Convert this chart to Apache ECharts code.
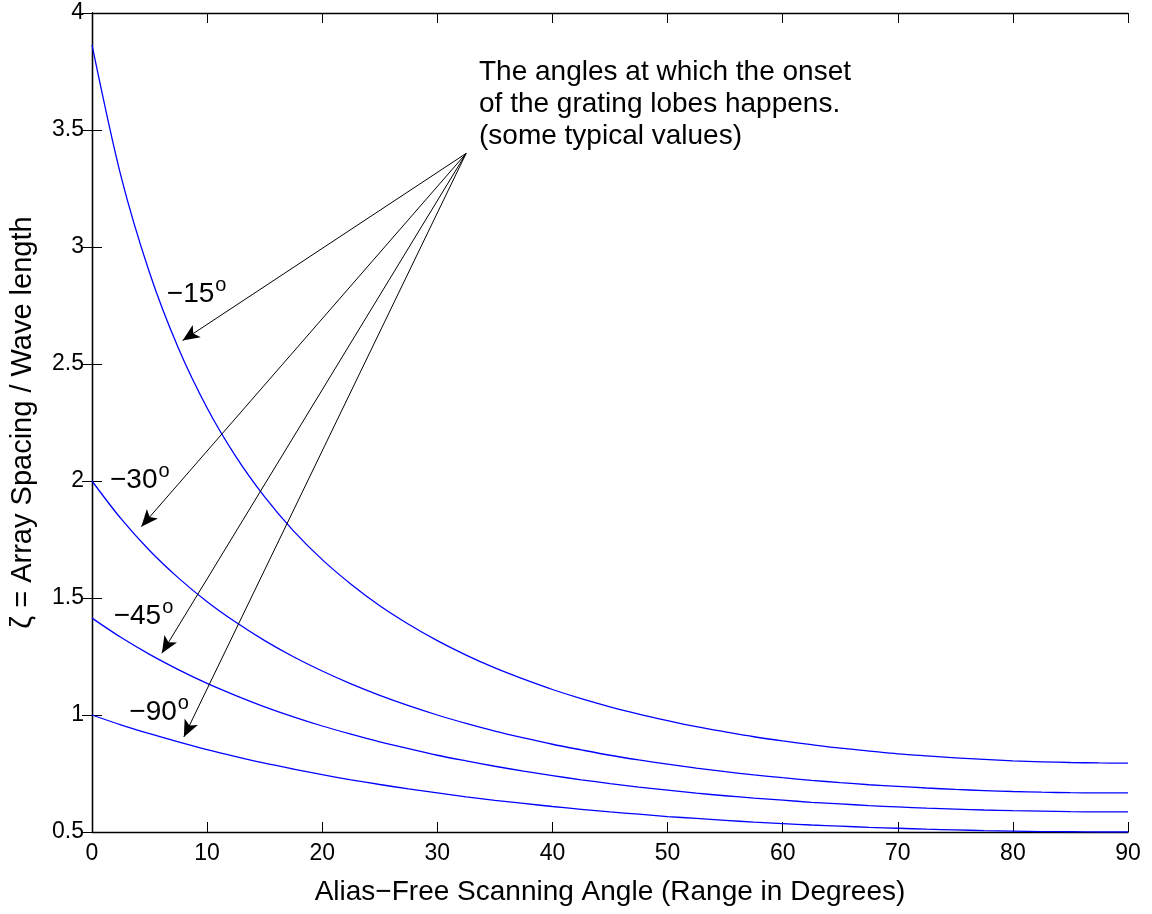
<!DOCTYPE html>
<html>
<head>
<meta charset="utf-8">
<script src="https://cdn.jsdelivr.net/npm/echarts@6/dist/echarts.min.js"></script>
<style>
  html, body { margin: 0; padding: 0; background: #fff; }
  #chart { width: 1152px; height: 914px; }
</style>
</head>
<body>
<div id="chart"></div>
<script>
// scan angle samples (degrees)
const angles = [0, 2.5, 5, 7.5, 10, 12.5, 15, 17.5, 20, 22.5, 25, 27.5, 30, 32.5, 35, 37.5, 40, 42.5, 45, 47.5, 50, 52.5, 55, 57.5, 60, 62.5, 65, 67.5, 70, 72.5, 75, 77.5, 80, 82.5, 85, 87.5, 90];

// zeta
const zeta15 = [3.864, 3.306, 2.890, 2.568, 2.312, 2.104, 1.932, 1.787, 1.664, 1.559, 1.467, 1.388, 1.318, 1.256, 1.201, 1.153, 1.109, 1.070, 1.035, 1.004, 0.976, 0.950, 0.928, 0.907, 0.889, 0.873, 0.858, 0.846, 0.834, 0.825, 0.817, 0.810, 0.804, 0.800, 0.797, 0.795, 0.794];
const zeta30 = [2.000, 1.840, 1.703, 1.586, 1.484, 1.396, 1.318, 1.249, 1.188, 1.133, 1.084, 1.040, 1.000, 0.964, 0.931, 0.902, 0.875, 0.851, 0.828, 0.808, 0.790, 0.773, 0.758, 0.744, 0.732, 0.721, 0.711, 0.702, 0.695, 0.688, 0.682, 0.677, 0.673, 0.670, 0.668, 0.667, 0.667];
const zeta45 = [1.414, 1.332, 1.259, 1.194, 1.135, 1.083, 1.035, 0.992, 0.953, 0.918, 0.885, 0.856, 0.828, 0.804, 0.781, 0.760, 0.741, 0.723, 0.707, 0.692, 0.679, 0.666, 0.655, 0.645, 0.636, 0.627, 0.620, 0.613, 0.607, 0.602, 0.598, 0.594, 0.591, 0.589, 0.587, 0.586, 0.586];
const zeta90 = [1.000, 0.958, 0.920, 0.885, 0.852, 0.822, 0.794, 0.769, 0.745, 0.723, 0.703, 0.684, 0.667, 0.650, 0.635, 0.622, 0.609, 0.597, 0.586, 0.576, 0.566, 0.558, 0.550, 0.542, 0.536, 0.530, 0.525, 0.520, 0.516, 0.512, 0.509, 0.506, 0.504, 0.502, 0.501, 0.500, 0.500];

const xTicks = { min: 0, max: 90, interval: 10 };
const yTicks = { min: 0.5, max: 4, interval: 0.5 };

// annotation: arrows from the common point to each curve, and the degree labels
const arrowFrom = [32.5, 3.40];
const arrowTo = [[7.87, 2.60], [4.28, 1.805], [6.07, 1.264], [7.98, 0.906]];
const degLabels = ['−15', '−30', '−45', '−90'];
const degLabelPos = [[6.5, 2.80], [1.56, 2.004], [1.88, 1.424], [3.24, 1.013]];

const FONT = '"Liberation Sans", Arial, Helvetica, sans-serif';

const pair = (xs, ys) => xs.map((x, i) => [x, ys[i]]);

const chart = echarts.init(document.getElementById('chart'));

function curve(name, data) {
  return {
    name: name,
    type: 'line',
    data: data,
    showSymbol: false,
    smooth: 0.3,
    lineStyle: { color: '#0000ff', width: 1.3 },
    itemStyle: { color: '#0000ff' },
    silent: true
  };
}

const axisCommon = {
  type: 'value',
  axisLine: { show: true, lineStyle: { color: '#000', width: 1.3 } },
  axisTick: { show: true, inside: true, length: 10, lineStyle: { color: '#000', width: 1 } },
  splitLine: { show: false }
};

chart.setOption({
  backgroundColor: '#fff',
  animation: false,
  textStyle: { fontFamily: FONT },
  grid: { left: 90, right: 24, top: 13, bottom: 82, containLabel: false },
  xAxis: [
    Object.assign({}, axisCommon, xTicks, {
      position: 'bottom',
      name: 'Alias−Free Scanning Angle (Range in Degrees)',
      nameLocation: 'middle',
      nameGap: 46,
      nameTextStyle: { fontSize: 28, color: '#000', fontFamily: FONT },
      axisLabel: { fontSize: 23, color: '#000', margin: 10, fontFamily: FONT }
    }),
    Object.assign({}, axisCommon, xTicks, {
      position: 'top',
      axisLabel: { show: false }
    })
  ],
  yAxis: [
    Object.assign({}, axisCommon, yTicks, {
      position: 'left',
      name: 'ζ = Array Spacing / Wave length',
      nameLocation: 'middle',
      nameGap: 55,
      nameRotate: 90,
      nameTextStyle: { fontSize: 29, color: '#000', fontFamily: FONT },
      axisLabel: { fontSize: 23, color: '#000', margin: 8, fontFamily: FONT }
    }),
    Object.assign({}, axisCommon, yTicks, {
      position: 'right',
      axisLabel: { show: false }
    })
  ],
  series: [
    curve('-15', pair(angles, zeta15)),
    curve('-30', pair(angles, zeta30)),
    curve('-45', pair(angles, zeta45)),
    curve('-90', pair(angles, zeta90)),
    {
      type: 'line',
      data: [],
      silent: true,
      markLine: {
        silent: true,
        symbol: ['none', 'arrow'],
        symbolSize: [11, 17],
        label: { show: false },
        lineStyle: { color: '#000', width: 1, type: 'solid' },
        itemStyle: { color: '#000' },
        emphasis: { disabled: true },
        data: arrowTo.map(t => [{ coord: arrowFrom }, { coord: t }])
      }
    }
  ]
});

// text annotations, placed through the chart's own scales
const labelGraphics = degLabelPos.map((p, i) => {
  const px = chart.convertToPixel({ gridIndex: 0 }, p);
  return {
    type: 'text',
    x: px[0],
    y: px[1],
    silent: true,
    style: {
      text: '{a|' + degLabels[i] + '}{b|o}',
      verticalAlign: 'middle',
      align: 'left',
      rich: {
        a: { fontSize: 28, fill: '#000', fontFamily: FONT },
        b: { fontSize: 20, fill: '#000', fontFamily: FONT, padding: [0, 0, 17, 1] }
      }
    }
  };
});

chart.setOption({
  graphic: [{
    type: 'text',
    left: 479,
    top: 56,
    silent: true,
    style: {
      text: 'The angles at which the onset\nof the grating lobes happens.\n(some typical values)',
      font: '28px ' + FONT,
      fill: '#000',
      lineHeight: 32
    }
  }].concat(labelGraphics)
});
</script>
</body>
</html>
